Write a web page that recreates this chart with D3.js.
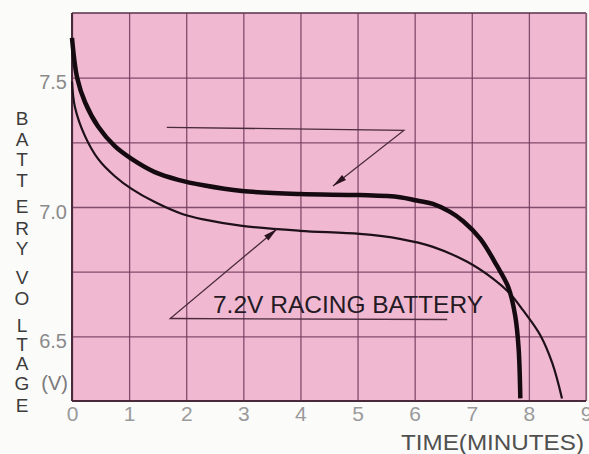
<!DOCTYPE html>
<html>
<head>
<meta charset="utf-8">
<script src="https://cdn.jsdelivr.net/npm/d3@7"></script>
<style>
  html, body { margin: 0; padding: 0; background: #fbfbfa; }
  svg { display: block; }
</style>
</head>
<body>
<div id="chart"></div>
<script>
// ---- data ----
const xTickValues = [0, 1, 2, 3, 4, 5, 6, 7, 8, 9];
const yTickValues = [6.5, 7.0, 7.5];
const yGridValues = [6.5, 6.75, 7.0, 7.25, 7.5];

// thick curve (time in minutes, volts)
const thickTime = [0, 0.09, 0.23, 0.46, 0.75, 1.05, 1.45, 1.86, 2.3, 2.98, 3.99, 5.04, 5.74, 6.04, 6.32, 6.62, 6.85, 7.15, 7.44, 7.64, 7.76, 7.82, 7.85];
const thickVolt = [7.654, 7.50, 7.404, 7.31, 7.235, 7.185, 7.135, 7.105, 7.084, 7.062, 7.05, 7.046, 7.038, 7.025, 7.012, 6.981, 6.945, 6.877, 6.773, 6.69, 6.58, 6.454, 6.26];

// thin curve
const thinTime = [0, 0.05, 0.23, 0.46, 0.75, 1.05, 1.45, 1.93, 2.3, 2.98, 3.99, 5.04, 5.74, 6.32, 6.92, 7.37, 7.67, 7.9, 8.2, 8.41, 8.58];
const thinVolt = [7.485, 7.388, 7.273, 7.185, 7.119, 7.069, 7.019, 6.973, 6.952, 6.927, 6.908, 6.896, 6.877, 6.846, 6.788, 6.723, 6.665, 6.6, 6.504, 6.396, 6.26];

// annotation leader lines (time, volts): start, corner, arrow tip
const topLeaderTime = [1.66, 5.81, 4.57];
const topLeaderVolt = [7.308, 7.296, 7.081];
const botLeaderTime = [6.57, 1.72, 3.59];
const botLeaderVolt = [6.565, 6.569, 6.915];

const annotationText = "7.2V RACING BATTERY";
const yTitleLetters = ["B","A","T","T","E","R","Y","","V","O","L","T","A","G","E"];
const xTitle = "TIME(MINUTES)";
const yUnit = "(V)";

// ---- layout ----
const W = 589, H = 454;
const pLeft = 72, pRight = 586, pTop = 13, pBottom = 401;

const svg = d3.select("#chart").append("svg").attr("width", W).attr("height", H);

const x = d3.scaleLinear().domain([0, 9]).range([pLeft, pRight]);
const y = d3.scaleLinear().domain([6.25, 7.75]).range([pBottom, pTop]);

// plot background
svg.append("rect").attr("x", pLeft).attr("y", pTop).attr("width", pRight - pLeft).attr("height", pBottom - pTop)
  .attr("fill", "#f0b8d1");

const gridColor = "#6e3a5a";
// vertical grid
svg.append("g").attr("transform", `translate(0,${pBottom})`)
  .call(d3.axisBottom(x).tickValues(xTickValues).tickSize(-(pBottom - pTop)).tickFormat(""))
  .call(g => g.select(".domain").remove())
  .call(g => g.selectAll("line").attr("stroke", gridColor).attr("stroke-width", 1.3).attr("opacity", 0.85));
// horizontal grid
svg.append("g").attr("transform", `translate(${pLeft},0)`)
  .call(d3.axisLeft(y).tickValues(yGridValues).tickSize(-(pRight - pLeft)).tickFormat(""))
  .call(g => g.select(".domain").remove())
  .call(g => g.selectAll("line").attr("stroke", gridColor).attr("stroke-width", 1.3).attr("opacity", 0.85));

// frame
svg.append("line").attr("x1", pLeft).attr("x2", pRight).attr("y1", pTop).attr("y2", pTop).attr("stroke", "#5a3048").attr("stroke-width", 1.5);
svg.append("line").attr("x1", pRight).attr("x2", pRight).attr("y1", pTop).attr("y2", pBottom).attr("stroke", "#8a6078").attr("stroke-width", 1.2);
svg.append("line").attr("x1", pLeft).attr("x2", pLeft).attr("y1", pTop).attr("y2", pBottom).attr("stroke", "#4a2a3a").attr("stroke-width", 2);
svg.append("line").attr("x1", pLeft).attr("x2", pRight).attr("y1", pBottom).attr("y2", pBottom).attr("stroke", "#4a2a3a").attr("stroke-width", 2);

// axes labels
const yAxis = svg.append("g").attr("transform", `translate(${pLeft},0)`)
  .call(d3.axisLeft(y).tickValues(yTickValues).tickSize(0).tickPadding(5).tickFormat(d3.format(".1f")));
yAxis.select(".domain").remove();
yAxis.selectAll("text").attr("font-family", "Liberation Sans, Arial, sans-serif").attr("font-size", 20)
  .attr("fill", "#8a8a8a").attr("dy", "0.55em");

const xAxis = svg.append("g").attr("transform", `translate(0,${pBottom})`)
  .call(d3.axisBottom(x).tickValues(xTickValues).tickSize(0).tickPadding(5).tickFormat(d3.format("d")));
xAxis.select(".domain").remove();
xAxis.selectAll("text").attr("font-family", "Liberation Sans, Arial, sans-serif").attr("font-size", 21)
  .attr("fill", "#9a9a9a");

// curves
const line = d3.line().x(d => x(d[0])).y(d => y(d[1])).curve(d3.curveCatmullRom.alpha(0.5));
const thickData = thickTime.map((t, i) => [t, thickVolt[i]]);
const thinData = thinTime.map((t, i) => [t, thinVolt[i]]);

svg.append("path").datum(thinData).attr("d", line).attr("fill", "none")
  .attr("stroke", "#1e1018").attr("stroke-width", 2.2);
svg.append("path").datum(thickData).attr("d", line).attr("fill", "none")
  .attr("stroke", "#140a10").attr("stroke-width", 4.5);

// annotation leaders
function leader(ts, vs) {
  const pts = ts.map((t, i) => [x(t), y(vs[i])]);
  svg.append("path").attr("d", d3.line()(pts)).attr("fill", "none")
    .attr("stroke", "#4a2a3c").attr("stroke-width", 1.3);
  const [p1, p2] = [pts[pts.length - 2], pts[pts.length - 1]];
  const ang = Math.atan2(p2[1] - p1[1], p2[0] - p1[0]);
  const len = 14, hw = 3.2;
  const bx = p2[0] - len * Math.cos(ang), by = p2[1] - len * Math.sin(ang);
  const nx = -Math.sin(ang) * hw, ny = Math.cos(ang) * hw;
  svg.append("path")
    .attr("d", `M${p2[0]},${p2[1]}L${bx + nx},${by + ny}L${bx - nx},${by - ny}Z`)
    .attr("fill", "#2a1420");
}
leader(topLeaderTime, topLeaderVolt);
leader(botLeaderTime, botLeaderVolt);

svg.append("text").attr("x", 213).attr("y", 313)
  .attr("font-family", "Liberation Sans, Arial, sans-serif").attr("font-size", 24)
  .attr("fill", "#241a24").attr("textLength", 270).attr("lengthAdjust", "spacingAndGlyphs")
  .text(annotationText);

// y title (stacked letters)
const letterY = [118, 139, 159, 180, 206, 228, 248, null, 277, 298, 325, 344, 363, 383, 405];
const yTitle = svg.append("g").attr("font-family", "Liberation Sans, Arial, sans-serif")
  .attr("font-size", 19).attr("fill", "#3c3c3c").attr("text-anchor", "middle");
yTitleLetters.forEach((ch, i) => {
  if (!ch) return;
  yTitle.append("text").attr("x", 22).attr("y", letterY[i]).attr("dy", "0.36em").text(ch);
});
svg.append("text").attr("x", 68).attr("y", 383).attr("dy", "0.36em").attr("text-anchor", "end")
  .attr("font-family", "Liberation Sans, Arial, sans-serif").attr("font-size", 20).attr("fill", "#7a7a7a")
  .text(yUnit);

// x title
svg.append("text").attr("x", 401).attr("y", 450)
  .attr("font-family", "Liberation Sans, Arial, sans-serif").attr("font-size", 22)
  .attr("fill", "#505050").attr("textLength", 183).attr("lengthAdjust", "spacingAndGlyphs")
  .text(xTitle);
</script>
</body>
</html>
